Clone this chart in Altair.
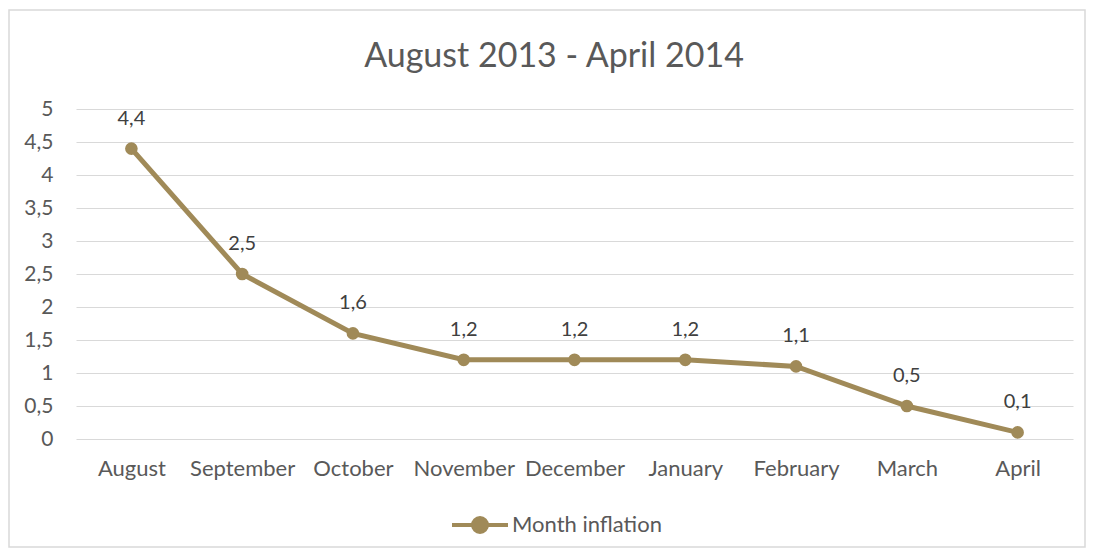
import altair as alt
import pandas as pd

months = ["August", "September", "October", "November", "December",
          "January", "February", "March", "April"]
inflation = [4.4, 2.5, 1.6, 1.2, 1.2, 1.2, 1.1, 0.5, 0.1]
series_name = "Month inflation"
title_text = "August 2013 - April 2014"

df = pd.DataFrame({"month": months, "value": inflation, "series": series_name})

COLOR = "#A08A58"
FONT = "Lato"
TXT = "#595959"
FS = 22

x_enc = alt.X("month:N", sort=months, title=None,
              scale=alt.Scale(paddingInner=0, paddingOuter=0, align=0.5),
              axis=alt.Axis(labelAngle=0, labelFontSize=FS, labelColor=TXT, labelFont=FONT,
                            ticks=False, domain=False, labelPadding=19, grid=False))
y_enc = alt.Y("value:Q", title=None,
              scale=alt.Scale(domain=[0, 5], nice=False),
              axis=alt.Axis(values=[0, 0.5, 1, 1.5, 2, 2.5, 3, 3.5, 4, 4.5, 5],
                            format=".1~f", labelExpr="replace(datum.label, '.', ',')",
                            labelFontSize=FS - 1, labelColor=TXT, labelFont=FONT,
                            ticks=False, domain=False, labelPadding=23,
                            grid=True, gridColor="#D9D9D9", gridWidth=1.2))

color_enc = alt.Color("series:N", title=None,
                      scale=alt.Scale(range=[COLOR]),
                      legend=alt.Legend(orient="none", legendX=388, legendY=400,
                                        symbolType="M-2,0L2,0M-0.5,0A0.5,0.5,0,1,0,0.5,0A0.5,0.5,0,1,0,-0.5,0Z",
                                        symbolSize=784, symbolStrokeWidth=4,
                                        symbolFillColor=COLOR, symbolStrokeColor=COLOR,
                                        labelFontSize=FS, labelColor=TXT, labelFont=FONT,
                                        labelOffset=16))

base = alt.Chart(df)

line = base.mark_line(strokeWidth=5, strokeCap="round").encode(x=x_enc, y=y_enc, color=color_enc)
points = base.mark_point(filled=True, size=160, opacity=1).encode(
    x=x_enc, y=y_enc, color=alt.Color("series:N", scale=alt.Scale(range=[COLOR]), legend=None))
labels = base.mark_text(dy=-30, fontSize=FS - 2, color="#404040", font=FONT).transform_calculate(
    lab="replace(format(datum.value, '.1f'), '.', ',')"
).encode(x=x_enc, y=y_enc, text="lab:N")

border = alt.Chart(pd.DataFrame({"k": [0]})).mark_rect(
    fill="transparent", stroke="#D9D9D9", strokeWidth=1.5
).encode(x=alt.value(-67), x2=alt.value(1009), y=alt.value(-99), y2=alt.value(438))

title = alt.Chart(pd.DataFrame({"t": [title_text]})).mark_text(
    fontSize=34, font=FONT, color=TXT, baseline="middle", align="center"
).encode(x=alt.value(478), y=alt.value(-52), text="t:N")

chart = alt.layer(border, title, line, points, labels).properties(
    width=997, height=330,
    autosize=alt.AutoSizeParams(type="none"),
    padding={"left": 68, "top": 101, "right": 13, "bottom": 109},
).configure_view(stroke=None)

chart.save("out.html", embed_options={"renderer": "svg", "actions": False})
